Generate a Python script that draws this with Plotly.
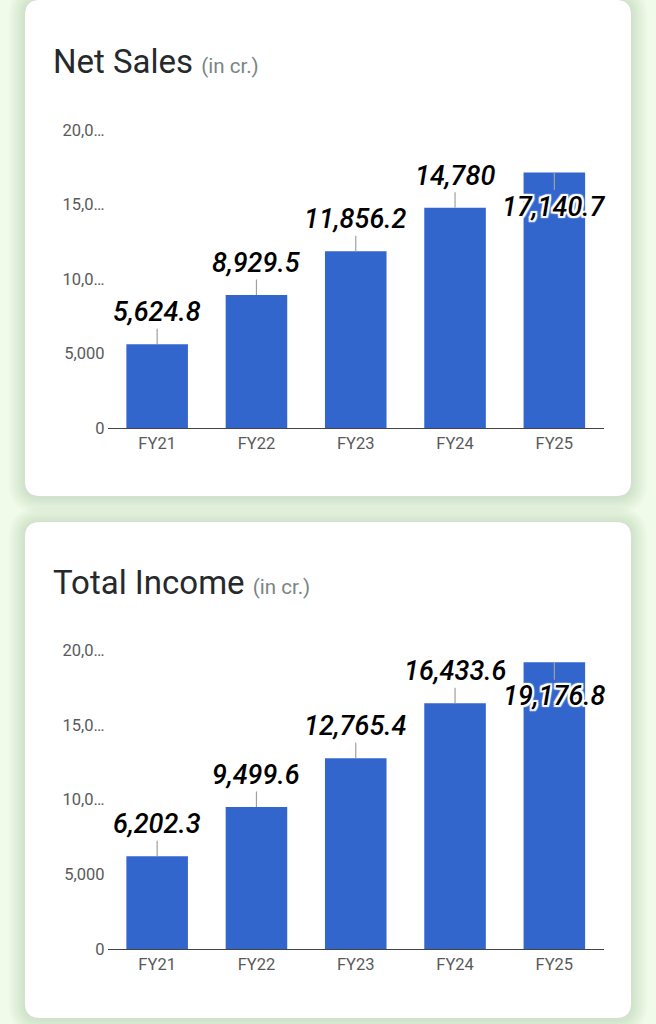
import plotly.graph_objects as go

categories = ["FY21", "FY22", "FY23", "FY24", "FY25"]
net_sales = [5624.8, 8929.5, 11856.2, 14780, 17140.7]
total_income = [6202.3, 9499.6, 12765.4, 16433.6, 19176.8]
net_labels = ["5,624.8", "8,929.5", "11,856.2", "14,780", "17,140.7"]
income_labels = ["6,202.3", "9,499.6", "12,765.4", "16,433.6", "19,176.8"]
y_ticks = [0, 5000, 10000, 15000, 20000]
y_tick_labels = ["0", "5,000", "10,0…", "15,0…", "20,0…"]

W, H = 656, 1024
BLUE = "#3366cc"
FONT = "Roboto"
HALO = ", ".join(f"{x}px {y}px 1px #ffffff" for x, y in
                 [(-2, 0), (2, 0), (0, -2), (0, 2), (-2, -2), (2, 2), (-2, 2), (2, -2)])


def round_rect(x0, y0, x1, y1, r):
    fx = lambda v: f"{v / W:.5f}"
    fy = lambda v: f"{1 - v / H:.5f}"
    return (f"M{fx(x0 + r)},{fy(y0)} L{fx(x1 - r)},{fy(y0)} "
            f"Q{fx(x1)},{fy(y0)} {fx(x1)},{fy(y0 + r)} L{fx(x1)},{fy(y1 - r)} "
            f"Q{fx(x1)},{fy(y1)} {fx(x1 - r)},{fy(y1)} L{fx(x0 + r)},{fy(y1)} "
            f"Q{fx(x0)},{fy(y1)} {fx(x0)},{fy(y1 - r)} L{fx(x0)},{fy(y0 + r)} "
            f"Q{fx(x0)},{fy(y0)} {fx(x0 + r)},{fy(y0)} Z")


shapes = []
for top, bottom in [(0, 496), (522, 1018)]:
    for spread in [16, 14, 12, 10, 8, 6, 4, 2]:
        shapes.append(dict(type="path", xref="paper", yref="paper", layer="below",
                           path=round_rect(25 - spread, top - spread + 1, 631 + spread, bottom + spread + 1, 15 + spread),
                           fillcolor="rgba(90,120,80,0.022)", line=dict(width=0)))
    shapes.append(dict(type="path", xref="paper", yref="paper", layer="below",
                       path=round_rect(25, top, 631, bottom, 15),
                       fillcolor="#ffffff", line=dict(width=0)))

fig = go.Figure()
annotations = []


def add_panel(idx, values, labels, y0_px, y20k_px, title, title_y):
    suffix = "" if idx == 1 else str(idx)
    fig.add_trace(go.Bar(x=categories, y=values, width=0.62, marker=dict(color=BLUE, line=dict(width=0)),
                         xaxis=f"x{suffix}", yaxis=f"y{suffix}", showlegend=False, hoverinfo="skip"))
    axis_common = dict(showgrid=False, zeroline=False, automargin=False,
                       tickfont=dict(family=FONT, size=16.5, color="#5a5a5a"))
    fig.layout[f"xaxis{suffix}"] = dict(domain=[107.5 / W, 604 / W], anchor=f"y{suffix}",
                                        type="category", range=[-0.5, 4.5], showline=True,
                                        linecolor="#444444", linewidth=1.2, ticks="", ticklen=0, **axis_common)
    fig.layout[f"yaxis{suffix}"] = dict(domain=[1 - y0_px / H, 1 - y20k_px / H], anchor=f"x{suffix}",
                                        range=[0, 20000], tickmode="array", tickvals=y_ticks,
                                        ticktext=y_tick_labels, showline=False, ticks="",
                                        ticklabelstandoff=2, **axis_common)
    for i, (c, v, t) in enumerate(zip(categories, values, labels)):
        last = i == len(values) - 1
        annotations.append(dict(x=c, y=v, xref=f"x{suffix}", yref=f"y{suffix}", axref="pixel", ayref="pixel",
                                ax=0, ay=34 if last else -32, text=t, showarrow=True, arrowhead=0,
                                arrowwidth=1.2, arrowcolor="#a0a0a0", standoff=0, borderpad=0,
                                font=dict(family=FONT, size=27, color="#000000", style="italic",
                                          weight=500, shadow=HALO)))
    annotations.append(dict(x=50.5 / W, y=1 - title_y / H, xref="paper", yref="paper", xanchor="left",
                            yanchor="middle", showarrow=False, align="left",
                            text=f'{title} <span style="font-size:20.5px;color:#7a8585">(in cr.)</span>',
                            font=dict(family=FONT, size=33, color="#26292c")))


add_panel(1, net_sales, net_labels, 428, 130, "Net Sales", 61)
add_panel(2, total_income, income_labels, 949, 650, "Total Income", 582)

fig.update_layout(width=W, height=H, margin=dict(l=0, r=0, t=0, b=0, pad=0, autoexpand=False), autosize=False,
                  paper_bgcolor="#f0fbe9", plot_bgcolor="rgba(0,0,0,0)", bargap=0.38,
                  shapes=shapes, annotations=annotations, font=dict(family=FONT))
fig.write_html("out.html", config=dict(displayModeBar=False, responsive=False),
               post_script="document.body.style.margin='0';document.body.style.overflow='hidden';")
